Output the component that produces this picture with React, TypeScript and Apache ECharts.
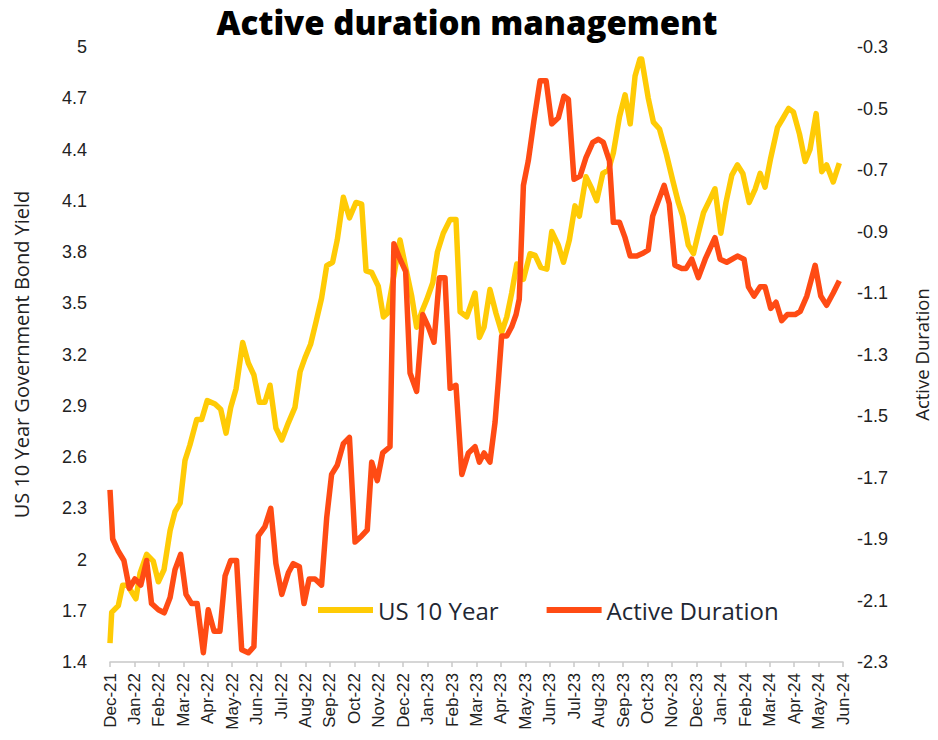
import React, { useEffect, useRef } from "react";
import * as echarts from "echarts";

const monthLabels = [
  "Dec-21", "Jan-22", "Feb-22", "Mar-22", "Apr-22", "May-22", "Jun-22", "Jul-22", "Aug-22", "Sep-22",
  "Oct-22", "Nov-22", "Dec-22", "Jan-23", "Feb-23", "Mar-23", "Apr-23", "May-23", "Jun-23", "Jul-23",
  "Aug-23", "Sep-23", "Oct-23", "Nov-23", "Dec-23", "Jan-24", "Feb-24", "Mar-24", "Apr-24", "May-24", "Jun-24",
];

// position in months since Dec-21
const usMonths = [
  0, 0.07, 0.34, 0.52, 0.71, 1.06, 1.23, 1.5, 1.77, 1.98, 2.21, 2.46, 2.66, 2.87, 3.07, 3.27, 3.55, 3.75, 3.98,
  4.3, 4.53, 4.75, 4.94, 5.16, 5.43, 5.66, 5.89, 6.11, 6.34, 6.55, 6.79, 7.03, 7.3, 7.57, 7.78, 7.98, 8.21, 8.43,
  8.66, 8.87, 9.11, 9.3, 9.55, 9.8, 10.07, 10.3, 10.48, 10.71, 10.98, 11.19, 11.35, 11.87, 12.1, 12.35, 12.55,
  12.76, 12.96, 13.21, 13.4, 13.64, 13.92, 14.16, 14.33, 14.6, 14.94, 15.12, 15.31, 15.55, 15.8, 16.03, 16.24,
  16.44, 16.65, 16.92, 17.19, 17.4, 17.63, 17.88, 18.08, 18.35, 18.56, 18.8, 19.03, 19.21, 19.48, 19.72, 19.92,
  20.17, 20.4, 20.6, 20.85, 21.08, 21.29, 21.49, 21.69, 21.76, 22.03, 22.24, 22.49, 22.76, 23.03, 23.26, 23.44,
  23.67, 23.88, 24.08, 24.29, 24.53, 24.76, 25.0, 25.21, 25.45, 25.68, 25.9, 26.16, 26.41, 26.61, 26.81, 27.04,
  27.32, 27.53, 27.77, 27.97, 28.22, 28.45, 28.65, 28.9, 29.13, 29.33, 29.6, 29.85,
];
const usYield = [
  1.51, 1.69, 1.73, 1.85, 1.85, 1.77, 1.92, 2.03, 1.99, 1.87, 1.94, 2.17, 2.28, 2.33, 2.58, 2.67, 2.82, 2.82, 2.93,
  2.91, 2.88, 2.74, 2.89, 3.0, 3.27, 3.15, 3.08, 2.92, 2.92, 3.02, 2.77, 2.7, 2.8, 2.89, 3.1, 3.18, 3.26, 3.39,
  3.53, 3.72, 3.74, 3.87, 4.12, 4.0, 4.09, 4.08, 3.69, 3.68, 3.6, 3.42, 3.44, 3.87, 3.71, 3.54, 3.36,
  3.45, 3.52, 3.62, 3.8, 3.91, 3.99, 3.99, 3.45, 3.42, 3.56, 3.3, 3.36, 3.58, 3.44, 3.33, 3.42,
  3.56, 3.73, 3.64, 3.79, 3.78, 3.71, 3.7, 3.92, 3.84, 3.74, 3.87, 4.07, 4.01, 4.24, 4.17, 4.1,
  4.26, 4.28, 4.38, 4.59, 4.72, 4.55, 4.83, 4.93, 4.93, 4.7, 4.56, 4.52, 4.38, 4.22, 4.09, 4.01,
  3.84, 3.79, 3.91, 4.03, 4.1, 4.17, 3.91, 4.09, 4.25, 4.31, 4.26, 4.09, 4.17, 4.26, 4.18, 4.35,
  4.53, 4.58, 4.64, 4.62, 4.49, 4.33, 4.4, 4.61, 4.27, 4.31, 4.21, 4.32,
];

const adMonths = [
  0, 0.11, 0.34, 0.57, 0.79, 1.02, 1.26, 1.5, 1.7, 1.98, 2.22, 2.46, 2.66, 2.89, 3.11, 3.34, 3.57, 3.82, 4.02,
  4.26, 4.5, 4.71, 4.94, 5.18, 5.39, 5.66, 5.89, 6.07, 6.34, 6.58, 6.79, 7.03, 7.3, 7.5, 7.75, 7.94, 8.15, 8.39,
  8.66, 8.87, 9.07, 9.3, 9.55, 9.8, 10.03, 10.3, 10.53, 10.71, 10.94, 11.16, 11.46, 11.62, 11.87, 12.1, 12.28,
  12.55, 12.8, 13.03, 13.26, 13.48, 13.71, 13.92, 14.16, 14.4, 14.67, 14.94, 15.12, 15.31, 15.55, 15.76, 15.9,
  16.03, 16.24, 16.44, 16.62, 16.75, 16.92, 17.12, 17.35, 17.6, 17.85, 18.08, 18.35, 18.58, 18.76, 18.99, 19.24,
  19.48, 19.76, 19.99, 20.19, 20.44, 20.6, 20.85, 21.08, 21.29, 21.56, 21.83, 22.03, 22.21, 22.68, 22.89, 23.12,
  23.4, 23.58, 23.81, 24.08, 24.36, 24.76, 24.97, 25.24, 25.68, 25.95, 26.13, 26.36, 26.61, 26.81, 27.04, 27.26,
  27.49, 27.72, 28.04, 28.25, 28.52, 28.86, 29.09, 29.33, 29.6, 29.85,
];
const adDuration = [
  -1.74, -1.9, -1.94, -1.97, -2.06, -2.03, -2.05, -1.97, -2.11, -2.13, -2.14, -2.09, -2.0, -1.95, -2.08, -2.11, -2.11, -2.27, -2.13,
  -2.2, -2.2, -2.02, -1.97, -1.97, -2.26, -2.27, -2.25, -1.89, -1.86, -1.8, -1.98, -2.08, -2.01, -1.98, -1.99, -2.11, -2.03, -2.03,
  -2.05, -1.83, -1.69, -1.66, -1.59, -1.57, -1.91, -1.89, -1.87, -1.65, -1.71, -1.62, -1.6, -0.94, -0.99, -1.03, -1.36,
  -1.42, -1.17, -1.21, -1.26, -1.05, -1.05, -1.41, -1.4, -1.69, -1.62, -1.6, -1.65, -1.62, -1.65, -1.52, -1.38,
  -1.24, -1.24, -1.21, -1.17, -1.12, -0.75, -0.67, -0.54, -0.41, -0.41, -0.55, -0.53, -0.46, -0.47, -0.73, -0.72,
  -0.66, -0.61, -0.6, -0.61, -0.67, -0.87, -0.87, -0.92, -0.98, -0.98, -0.97, -0.96, -0.85, -0.75, -0.81, -1.01,
  -1.02, -1.02, -0.99, -1.05, -0.99, -0.92, -0.99, -1.0, -0.98, -0.99, -1.08, -1.11, -1.08, -1.08, -1.15, -1.13,
  -1.19, -1.17, -1.17, -1.16, -1.11, -1.01, -1.11, -1.14, -1.1, -1.06,
];

const YELLOW = "#FFCB05";
const RED = "#FF4B14";
const AXIS_FONT = "'Liberation Sans', Arial, sans-serif";
const NAME_FONT = "'Open Sans', sans-serif";

export default function App() {
  const ref = useRef<HTMLDivElement>(null);
  useEffect(() => {
    if (!ref.current) return;
    const chart = echarts.init(ref.current, null, { renderer: "svg" });
    chart.setOption({
      animation: false,
      backgroundColor: "#ffffff",
      title: {
        text: "Active duration management",
        left: 462,
        textAlign: "center",
        top: 1,
        textStyle: { fontSize: 33, fontWeight: 900, color: "#000", fontFamily: "'Open Sans', Arial, sans-serif" },
      },
      legend: {
        left: 313,
        top: 593,
        icon: "rect",
        itemWidth: 55,
        itemHeight: 6,
        itemGap: 48,
        textStyle: { fontSize: 24, color: "#1f2733", fontFamily: "'Open Sans', Arial, sans-serif" },
        data: ["US 10 Year", "Active Duration"],
      },
      grid: { left: 110, right: 95, top: 47, bottom: 78, outerBoundsMode: "none", containLabel: false },
      xAxis: {
        type: "value",
        min: 0,
        max: 30,
        interval: 1,
        splitLine: { show: false },
        axisLine: { show: true, lineStyle: { color: "#c8c8c8", width: 1.5 } },
        axisTick: { show: true, length: 5, lineStyle: { color: "#c8c8c8", width: 1.5 } },
        axisLabel: {
          rotate: 90,
          margin: 11,
          fontSize: 17,
          color: "#222",
          fontFamily: AXIS_FONT,
          formatter: (v: number) => monthLabels[Math.round(v)] ?? "",
        },
      },
      yAxis: [
        {
          type: "value",
          min: 1.4,
          max: 5,
          interval: 0.3,
          name: "US 10 Year Government Bond Yield",
          nameLocation: "middle",
          nameGap: 79,
          nameTextStyle: { fontSize: 20, color: "#222", fontFamily: NAME_FONT },
          splitLine: { show: false },
          axisLine: { show: false },
          axisTick: { show: false },
          axisLabel: { fontSize: 18, color: "#222", margin: 23, fontFamily: AXIS_FONT },
        },
        {
          type: "value",
          min: -2.3,
          max: -0.3,
          interval: 0.2,
          name: "Active Duration",
          nameLocation: "middle",
          nameGap: 69,
          nameTextStyle: { fontSize: 18.5, color: "#222", fontFamily: NAME_FONT },
          splitLine: { show: false },
          axisLine: { show: false },
          axisTick: { show: false },
          axisLabel: { fontSize: 18, color: "#222", margin: 14, fontFamily: AXIS_FONT },
        },
      ],
      series: [
        {
          name: "US 10 Year",
          type: "line",
          yAxisIndex: 0,
          showSymbol: false,
          symbol: "none",
          color: YELLOW,
          lineStyle: { width: 5.5, color: YELLOW, join: "round" },
          data: usMonths.map((t, i) => [t, usYield[i]]),
        },
        {
          name: "Active Duration",
          type: "line",
          yAxisIndex: 1,
          showSymbol: false,
          symbol: "none",
          color: RED,
          lineStyle: { width: 5.5, color: RED, join: "round" },
          data: adMonths.map((t, i) => [t, adDuration[i]]),
        },
      ],
    });
    return () => chart.dispose();
  }, []);
  return (
    <div
      ref={ref}
      style={{ position: "fixed", left: 0, top: 0, width: 938, height: 740, background: "#fff" }}
    />
  );
}
